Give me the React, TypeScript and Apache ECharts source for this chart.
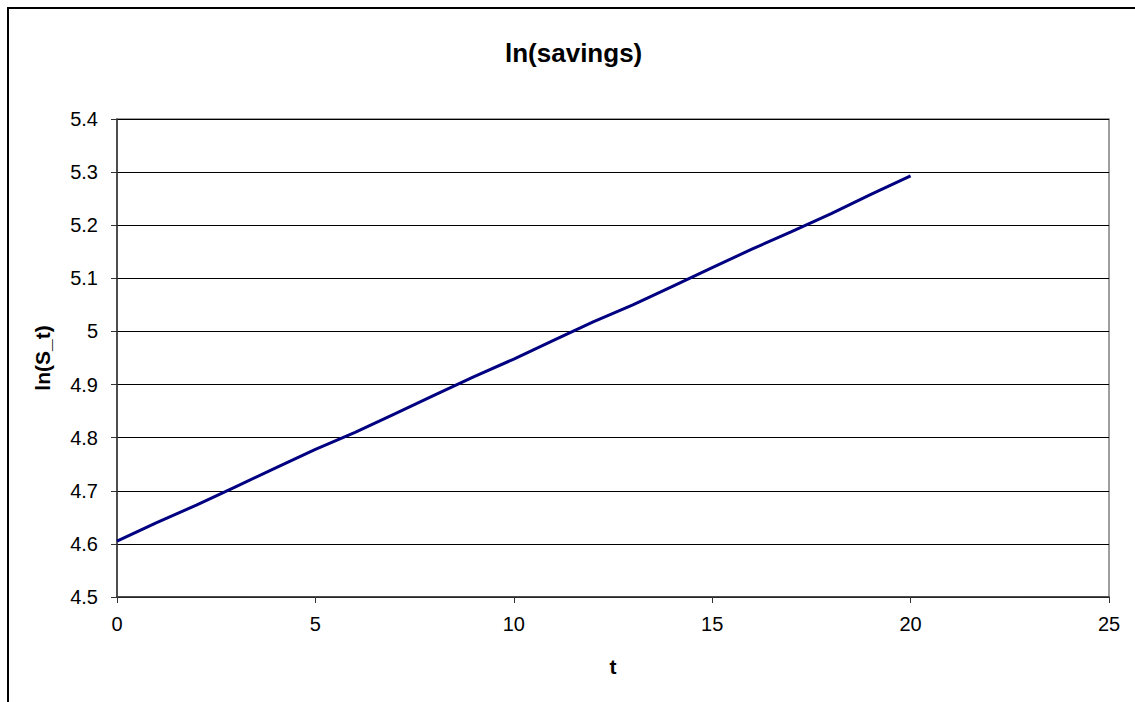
import React, { useEffect, useRef } from "react";
import * as echarts from "echarts";

const tValues = [0, 1, 2, 3, 4, 5, 6, 7, 8, 9, 10, 11, 12, 13, 14, 15, 16, 17, 18, 19, 20];
const lnSavings = [
  4.605, 4.64, 4.673, 4.708, 4.743, 4.778, 4.81, 4.845, 4.88, 4.915, 4.948,
  4.983, 5.018, 5.05, 5.085, 5.12, 5.155, 5.188, 5.222, 5.258, 5.293,
];
const chartTitle = "ln(savings)";
const xName = "t";
const yName = "ln(S_t)";

const FONT = "'Liberation Sans', Arial, sans-serif";

export default function App() {
  const ref = useRef<HTMLDivElement>(null);
  useEffect(() => {
    if (!ref.current) return;
    const chart = echarts.init(ref.current, null, { renderer: "svg" });
    chart.setOption({
      animation: false,
      backgroundColor: "#ffffff",
      title: {
        text: chartTitle,
        left: 500,
        top: 35,
        textStyle: { fontFamily: FONT, fontSize: 26, fontWeight: "bold", color: "#000" },
      },
      grid: {
        left: 117,
        top: 119,
        right: 26,
        bottom: 105,
        show: true,
        borderColor: "#808080",
        borderWidth: 1.5,
        backgroundColor: "transparent",
      },
      graphic: [
        {
          type: "polyline",
          shape: { points: [[8, 720], [8, 8], [1150, 8]] },
          style: { stroke: "#000", lineWidth: 2, fill: "none" },
          silent: true,
        },
      ],
      xAxis: {
        type: "value",
        min: 0,
        max: 25,
        interval: 5,
        name: xName,
        nameLocation: "middle",
        nameGap: 59,
        nameTextStyle: { fontFamily: FONT, fontSize: 21, fontWeight: "bold", color: "#000" },
        axisLine: { show: true, onZero: false, lineStyle: { color: "#333", width: 1.5 } },
        axisTick: { show: true, inside: false, length: 6, lineStyle: { color: "#333" } },
        axisLabel: { fontFamily: FONT, fontSize: 20, color: "#000", margin: 17 },
        splitLine: { show: false },
      },
      yAxis: {
        type: "value",
        min: 4.5,
        max: 5.4,
        interval: 0.1,
        name: yName,
        nameLocation: "middle",
        nameGap: 64,
        nameTextStyle: { fontFamily: FONT, fontSize: 21, fontWeight: "bold", color: "#000" },
        axisLine: { show: true, lineStyle: { color: "#333", width: 1.5 } },
        axisTick: { show: true, inside: false, length: 6, lineStyle: { color: "#333" } },
        axisLabel: {
          fontFamily: FONT,
          fontSize: 20,
          color: "#000",
          margin: 19,
          formatter: (v: number) => String(Math.round(v * 10) / 10),
        },
        splitLine: { show: true, lineStyle: { color: "#000", width: 1 } },
      },
      series: [
        {
          type: "line",
          data: tValues.map((t, i) => [t, lnSavings[i]]),
          showSymbol: false,
          symbol: "none",
          lineStyle: { color: "#000080", width: 3 },
        },
      ],
    });
    return () => chart.dispose();
  }, []);
  return (
    <div
      ref={ref}
      style={{ position: "fixed", left: 0, top: 0, width: 1135, height: 702, background: "#fff" }}
    />
  );
}
